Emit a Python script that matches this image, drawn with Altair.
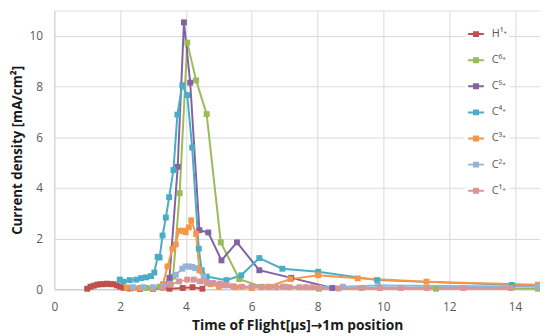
import altair as alt
import pandas as pd

series_names = ["H¹⁺", "C⁶⁺", "C⁵⁺", "C⁴⁺", "C³⁺", "C²⁺", "C¹⁺"]
series_colors = ["#C0504D", "#9BBB59", "#8064A2", "#4BACC6", "#F79646", "#95B3D7", "#D99694"]

h1_x = [1.0, 1.1, 1.2, 1.3, 1.4, 1.5, 1.6, 1.7, 1.8, 1.9, 2.0, 2.1, 2.3, 2.6, 3.0, 3.5, 3.9, 4.2, 4.5]
h1_y = [0.02, 0.1, 0.14, 0.18, 0.2, 0.2, 0.22, 0.2, 0.2, 0.15, 0.1, 0.06, 0.03, 0.02, 0.02, 0.02, 0.05, 0.08, 0.02]

c6_x = [2.8, 3.2, 3.5, 3.61, 3.81, 4.04, 4.31, 4.63, 5.06, 5.62, 6.3, 8.04, 11.6, 14.7]
c6_y = [0.05, 0.1, 0.3, 0.5, 3.79, 9.73, 8.24, 6.91, 1.85, 0.4, 0.1, 0.02, 0.02, 0.02]

c5_x = [2.6, 3.0, 3.3, 3.5, 3.75, 3.94, 4.13, 4.41, 4.68, 5.08, 5.55, 6.23, 7.2, 8.45]
c5_y = [0.03, 0.05, 0.1, 0.45, 4.83, 10.53, 8.15, 2.33, 2.24, 1.14, 1.85, 0.75, 0.45, 0.05]

c4_x = [1.99, 2.1, 2.29, 2.49, 2.64, 2.79, 2.94, 3.04, 3.14, 3.2, 3.29, 3.39, 3.49, 3.62,
        3.74, 3.89, 4.04, 4.19, 4.39, 4.48, 4.63, 5.23, 5.68, 6.23, 6.93, 8.02, 9.81, 13.9, 14.7]
c4_y = [0.38, 0.3, 0.36, 0.38, 0.44, 0.47, 0.52, 0.66, 1.28, 1.25, 2.12, 2.83, 3.63, 4.7,
        6.89, 8.05, 7.66, 5.59, 1.6, 0.75, 0.5, 0.36, 0.55, 1.23, 0.81, 0.69, 0.36, 0.17, 0.15]

c3_x = [2.2, 2.4, 2.6, 3.0, 3.3, 3.44, 3.59, 3.69, 3.79, 3.92, 3.99, 4.09, 4.16, 4.31, 4.41,
        4.55, 4.75, 5.0, 5.5, 6.0, 6.5, 7.17, 8.02, 9.22, 11.31, 14.7]
c3_y = [0.07, 0.05, 0.05, 0.05, 0.2, 0.9, 1.6, 1.77, 2.31, 2.31, 2.25, 2.44, 2.72, 2.18, 0.75,
        0.45, 0.2, 0.1, 0.08, 0.05, 0.1, 0.4, 0.55, 0.43, 0.3, 0.18]

c2_x = [2.39, 2.7, 3.0, 3.3, 3.5, 3.69, 3.89, 3.99, 4.09, 4.19, 4.28, 4.54, 4.8, 5.2, 6.0,
        7.0, 8.77, 9.84, 14.7]
c2_y = [0.08, 0.08, 0.08, 0.1, 0.2, 0.57, 0.81, 0.9, 0.9, 0.88, 0.83, 0.49, 0.25, 0.15, 0.1,
        0.1, 0.1, 0.15, 0.1]

c1_x = [3.3, 3.54, 3.79, 4.04, 4.24, 4.43, 4.63, 4.83, 5.03, 5.23, 5.43, 5.7, 6.0, 6.3, 6.55,
        6.75, 6.95, 7.15, 7.45, 7.65, 7.85, 8.05, 8.64, 9.34, 9.89, 10.53, 11.33, 12.43, 13.87]
c1_y = [0.05, 0.18, 0.31, 0.38, 0.38, 0.31, 0.24, 0.24, 0.22, 0.18, 0.12, 0.1, 0.08, 0.08, 0.08,
        0.08, 0.1, 0.08, 0.08, 0.08, 0.08, 0.06, 0.03, 0.05, 0.05, 0.05, 0.05, 0.05, 0.05]

x_ticks = [0, 2, 4, 6, 8, 10, 12, 14]
y_ticks = [0, 2, 4, 6, 8, 10]

all_x = [h1_x, c6_x, c5_x, c4_x, c3_x, c2_x, c1_x]
all_y = [h1_y, c6_y, c5_y, c4_y, c3_y, c2_y, c1_y]

rows = []
for order, (name, xs, ys) in enumerate(zip(series_names, all_x, all_y)):
    for i, (xv, yv) in enumerate(zip(xs, ys)):
        rows.append({"series": name, "t": xv, "j": yv, "ord": order, "i": i})
df = pd.DataFrame(rows)

legend_path = ("M-1,0H1"
               "M-0.38,-0.25H0.38M-0.38,0H0.38M-0.38,0.25H0.38")

color = alt.Color(
    "series:N",
    scale=alt.Scale(domain=series_names, range=series_colors),
    sort=series_names,
    legend=alt.Legend(
        title=None,
        orient="none",
        legendX=417,
        legendY=13,
        fillColor="white",
        padding=2,
        symbolType=legend_path,
        symbolSize=256,
        symbolStrokeWidth=2,
        labelFont="Open Sans",
        labelFontSize=11,
        labelColor="#595959",
        labelOffset=7,
        rowPadding=11.5,
    ),
)

x_enc = alt.X(
    "t:Q",
    scale=alt.Scale(domain=[0, 14.76], nice=False, zero=False),
    axis=alt.Axis(
        values=x_ticks,
        title="Time of Flight[μs]→1m position",
        titleFont="Open Sans, DejaVu Sans",
        titleFontSize=14,
        titleFontWeight="bold",
        titleColor="#1a1a1a",
        titlePadding=6,
        labelFont="Open Sans",
        labelFontSize=12,
        labelColor="#595959",
        labelPadding=13,
        tickSize=0,
        grid=True,
        gridColor="#d9d9d9",
        domainColor="#c8c8c8",
        labelFlush=False,
    ),
)
y_enc = alt.Y(
    "j:Q",
    scale=alt.Scale(domain=[0, 11], nice=False),
    axis=alt.Axis(
        values=y_ticks,
        title="Current density [mA/cm²]",
        titleFont="Open Sans",
        titleFontSize=13.5,
        titleFontWeight="bold",
        titleColor="#1a1a1a",
        titlePadding=5,
        labelFont="Open Sans",
        labelFontSize=12,
        labelColor="#595959",
        labelPadding=12,
        tickSize=0,
        grid=True,
        gridColor="#d9d9d9",
        domainColor="#d9d9d9",
    ),
)

base = alt.Chart(df)
lines = base.mark_line(strokeWidth=2).encode(
    x=x_enc, y=y_enc, color=color, detail="series:N", order="i:Q"
)
points = base.mark_point(shape="square", filled=True, size=36, opacity=1).encode(
    x="t:Q", y="j:Q", color=alt.Color("series:N", legend=None), order="ord:Q"
)

chart = (
    alt.layer(lines, points)
    .properties(
        width=493,
        height=283,
        autosize=alt.AutoSizeParams(type="none"),
        padding={"left": 47, "top": 0, "right": 0, "bottom": 47},
    )
    .configure_view(stroke=None)
    .configure(background="white")
)

chart.save("out.html", embed_options={"renderer": "svg", "actions": False})
